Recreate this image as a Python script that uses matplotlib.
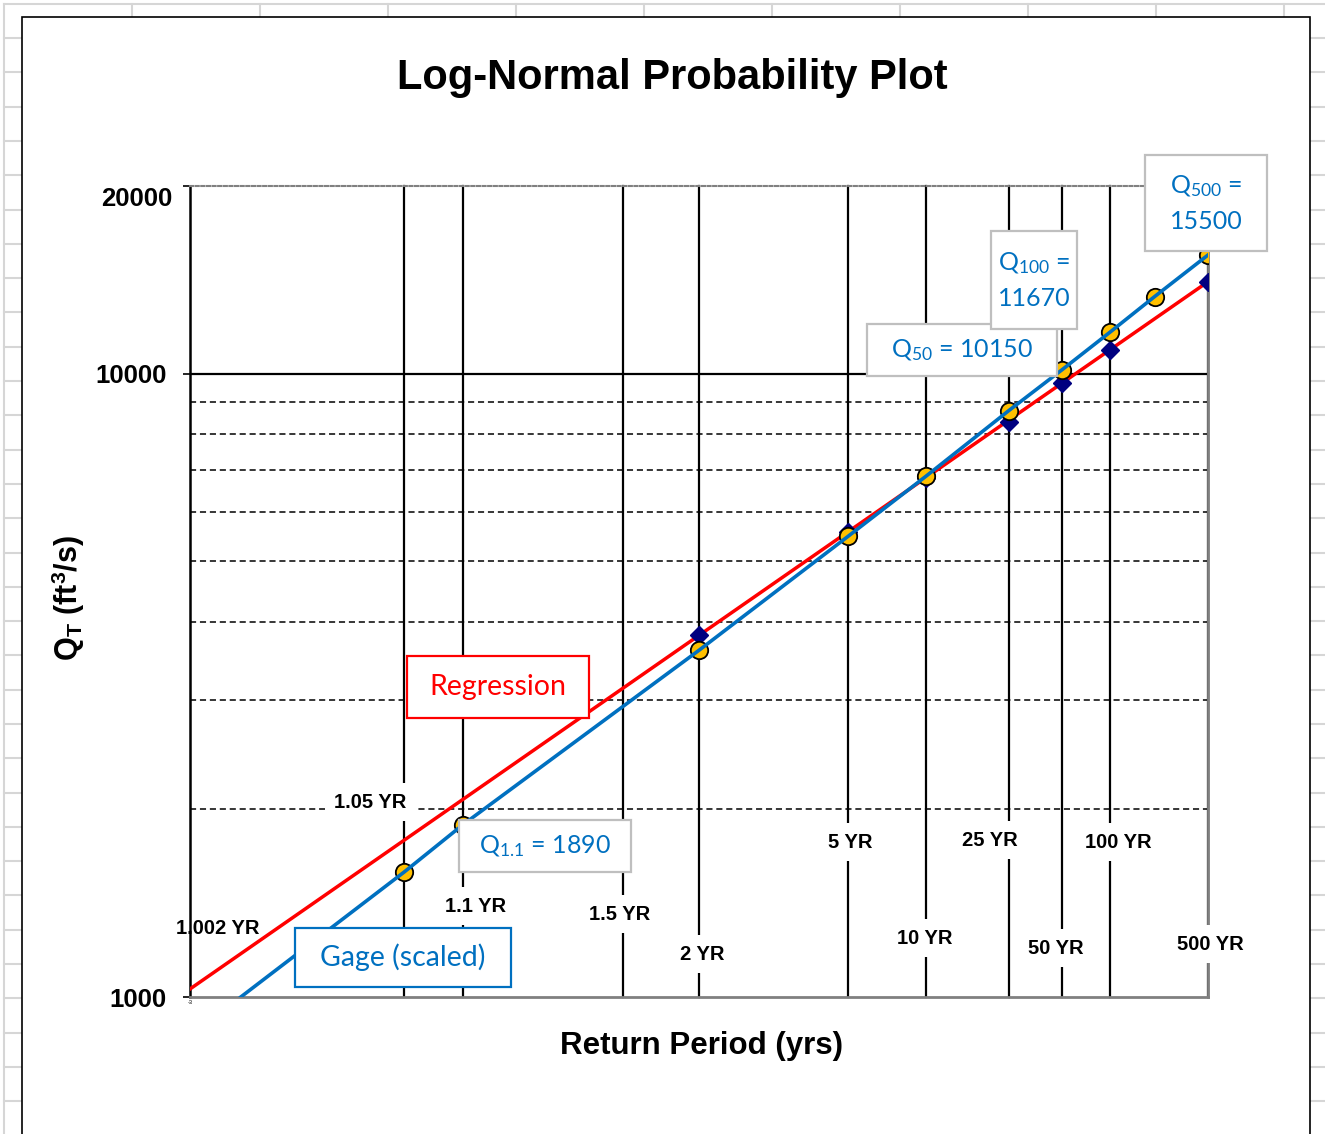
import math
import numpy as np
import matplotlib
matplotlib.use("Agg")
import matplotlib.pyplot as plt
import matplotlib.transforms as mtrans
from matplotlib.patches import Rectangle
from matplotlib.lines import Line2D
from matplotlib.ticker import NullLocator

plt.rcParams['font.family'] = ['Liberation Sans', 'DejaVu Sans']
plt.rcParams['mathtext.fontset'] = 'custom'
plt.rcParams['mathtext.rm'] = 'Lato'
plt.rcParams['mathtext.it'] = 'Lato:italic'
plt.rcParams['mathtext.bf'] = 'Liberation Sans:bold'

# gage (scaled) curve and its points at the return periods
gage_T = [1.0048, 1.05, 1.1, 2, 5, 10, 25, 50, 100, 200, 500]
gage_Q = [1000, 1586, 1890, 3600, 5480, 6840, 8720, 10150, 11670, 13290, 15500]
pt_T = [1.05, 1.1, 2, 5, 10, 25, 50, 100, 200, 500]
pt_Q = [1586, 1890, 3600, 5480, 6840, 8720, 10150, 11670, 13290, 15500]

# regression line and its points
reg_T = [1.002, 500]
reg_Q = [1030, 14044]
dia_T = [2, 5, 10, 25, 50, 100, 500]
dia_Q = [3803, 5572, 6805, 8375, 9643, 10925, 14044]

# grid
rp_lines = [1.05, 1.1, 1.5, 2, 5, 10, 25, 50, 100, 500]
q_dashed = [2000, 3000, 4000, 5000, 6000, 7000, 8000, 9000]
q_solid = [10000]

yr_labels = [("1.002 YR", 218, 929), ("1.05 YR", 370, 802), ("1.1 YR", 476, 906),
             ("1.5 YR", 620, 914), ("2 YR", 702, 954), ("5 YR", 850, 842),
             ("10 YR", 925, 938), ("25 YR", 990, 840), ("50 YR", 1056, 948),
             ("100 YR", 1118, 842), ("500 YR", 1210, 944)]

W, H = 1325, 1134
def fx(px):
    return px / W
def fy(py):
    return 1 - py / H

# normal probability scale: return period <-> standard normal variate
z_tab = np.linspace(-6, 6, 24001)
p_tab = 0.5 * (1 + np.vectorize(math.erf)(z_tab / math.sqrt(2)))

def fwd(T):
    T = np.asarray(T, float)
    with np.errstate(divide='ignore', invalid='ignore'):
        p = 1 - 1 / T
    return np.interp(p, p_tab, z_tab)

def inv(z):
    p = np.interp(np.asarray(z, float), z_tab, p_tab)
    with np.errstate(divide='ignore'):
        return 1 / (1 - p)

fig = plt.figure(figsize=(13.25, 11.34), dpi=100)

# spreadsheet cells behind the chart
gc = '#d6d6d6'
fig.add_artist(Line2D([fx(4), fx(1325)], [fy(4), fy(4)], color=gc, lw=1.5, zorder=-3))
fig.add_artist(Line2D([fx(4), fx(4)], [fy(4), fy(1134)], color=gc, lw=1.5, zorder=-3))
for x in range(132, 1325, 128):
    fig.add_artist(Line2D([fx(x), fx(x)], [fy(4), fy(17)], color=gc, lw=1.5, zorder=-3))
y = 38.0
while y < 1134:
    fig.add_artist(Line2D([fx(4), fx(22)], [fy(y), fy(y)], color=gc, lw=1.5, zorder=-3))
    fig.add_artist(Line2D([fx(1310), fx(1325)], [fy(y), fy(y)], color=gc, lw=1.5, zorder=-3))
    y += 34.3
fig.add_artist(Rectangle((fx(22), fy(1150)), fx(1310) - fx(22), fy(17) - fy(1150),
                         transform=fig.transFigure, fc='white', ec='black', lw=1.2, zorder=-2))

ax = fig.add_axes([fx(190), fy(997), fx(1208) - fx(190), fy(186) - fy(997)])
ax.set_facecolor('white')
ax.set_xscale('function', functions=(fwd, inv))
ax.set_yscale('log')
ax.set_xlim(1.002, 500)
ax.set_ylim(1000, 20000)

for q in q_dashed:
    ax.axhline(q, color='black', lw=1.1, ls=(0, (4, 2.5)), zorder=1)
for q in q_solid:
    ax.axhline(q, color='black', lw=1.6, zorder=1)
for T in rp_lines:
    ax.axvline(T, color='black', lw=1.6, zorder=1, clip_on=False)

for txt, px, py in yr_labels:
    bb = None if txt == "1.002 YR" else dict(boxstyle='square,pad=0.45', fc='white', ec='none')
    ax.text(fx(px), fy(py), txt, transform=fig.transFigure, ha='center', va='center',
            fontsize=14.5, fontweight='bold', bbox=bb, zorder=2.7)

ax.plot(reg_T, reg_Q, color='#ff0000', lw=2.5, zorder=3)
ax.plot(dia_T, dia_Q, ls='none', marker='D', ms=9, color='#000080', zorder=3.5)
ax.plot(pt_T, pt_Q, ls='none', marker='o', ms=12.5, mfc='#ffc000', mec='black', mew=1.3, zorder=4)
ax.plot(gage_T, gage_Q, color='#0070c0', lw=2.6, zorder=4.5)

ax.spines['left'].set_color('black')
ax.spines['left'].set_linewidth(1.8)
ax.spines['bottom'].set_color('#808080')
ax.spines['bottom'].set_linewidth(2)
ax.spines['right'].set_color('#808080')
ax.spines['right'].set_linewidth(2)
ax.spines['top'].set_color('#808080')
ax.spines['top'].set_linewidth(1.5)
ax.spines['top'].set_linestyle((0, (1.5, 1.2)))

ax.set_xticks([])
ax.xaxis.set_minor_locator(NullLocator())
ax.set_yticks([1000, 10000, 20000])
ax.set_yticklabels(['1000', '10000', '20000'], fontsize=18.5, fontweight='bold')
ax.yaxis.set_minor_locator(NullLocator())
ax.tick_params(axis='y', length=5, width=1.2, pad=12)
lab20k = ax.get_yticklabels()[2]
lab20k.set_transform(lab20k.get_transform() +
                     mtrans.ScaledTranslation(6 / 100, -10 / 100, fig.dpi_scale_trans))
ax.text(fx(190), fy(1003), '-3', transform=fig.transFigure, fontsize=4, ha='center', va='center')

fig.text(fx(672), fy(78), 'Log-Normal Probability Plot', ha='center', va='center',
         fontsize=30, fontweight='bold')
fig.text(fx(702), fy(1046), 'Return Period (yrs)', ha='center', va='center',
         fontsize=22.5, fontweight='bold')
fig.text(fx(68), fy(598), r'Q$_\mathbf{T}$ (ft$^\mathbf{3}$/s)', ha='center', va='center',
         rotation=90, fontsize=22, fontweight='bold')

# text boxes
blue = '#0070c0'
boxes = [(r'Q$_{\mathrm{1.1}}$ = 1890', 459, 820, 631, 872, blue, '#bfbfbf', 18),
         (r'Q$_{\mathrm{50}}$ = 10150', 867, 324, 1057, 376, blue, '#bfbfbf', 18),
         ('Q$_{\\mathrm{100}}$ =\n11670', 991, 231, 1077, 329, blue, '#bfbfbf', 18),
         ('Q$_{\\mathrm{500}}$ =\n15500', 1145, 155, 1267, 251, blue, '#bfbfbf', 18),
         ('Regression', 407, 656, 589, 718, '#ff0000', '#ff0000', 20.5),
         ('Gage (scaled)', 295, 928, 511, 987, blue, blue, 20.5)]
for txt, x0, y0, x1, y1, tc, ec, fs in boxes:
    fig.add_artist(Rectangle((fx(x0), fy(y1)), fx(x1) - fx(x0), fy(y0) - fy(y1),
                             transform=fig.transFigure, fc='white', ec=ec, lw=1.6, zorder=10))
    fig.text(fx((x0 + x1) / 2), fy((y0 + y1) / 2), txt, ha='center', va='center',
             color=tc, fontsize=fs, family='Lato', linespacing=1.55, zorder=11)

fig.savefig('out.png', dpi=100)
